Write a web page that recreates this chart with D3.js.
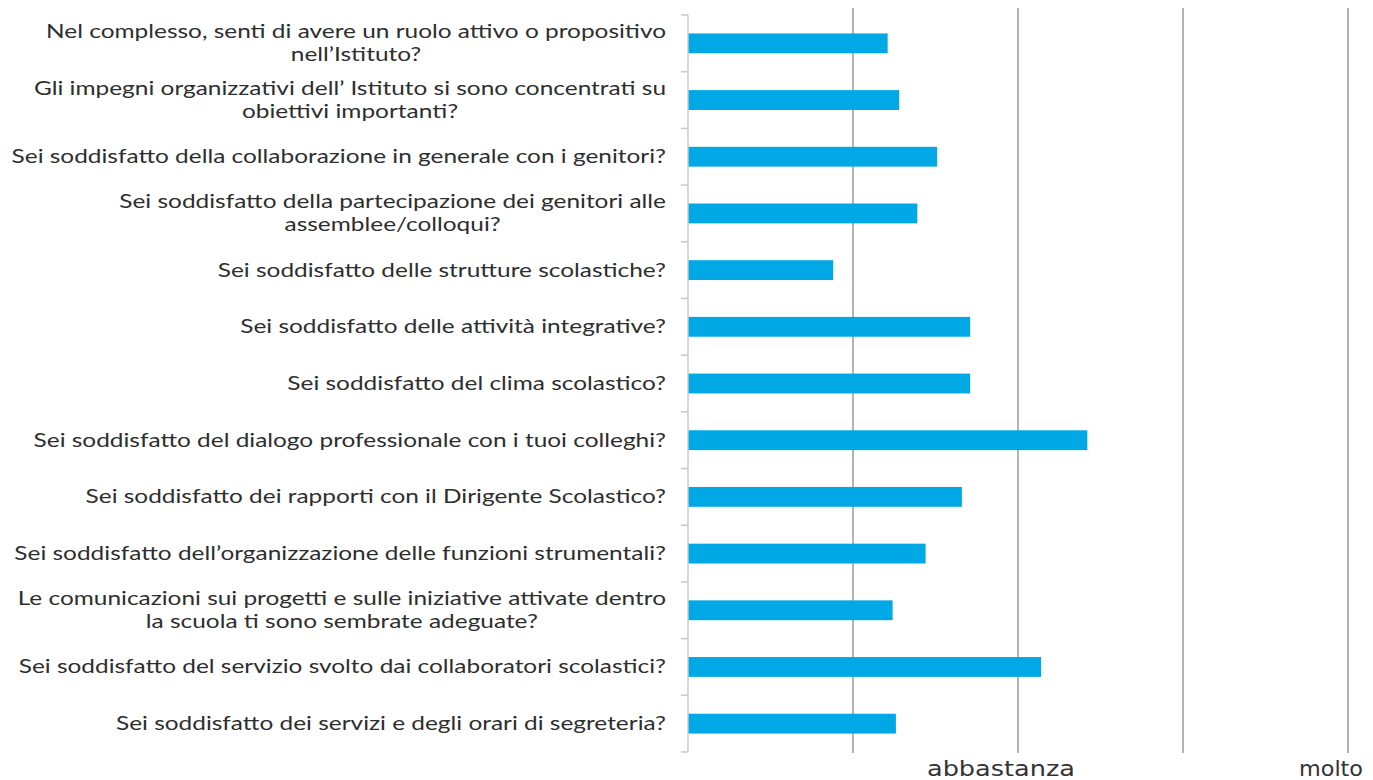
<!DOCTYPE html>
<html>
<head>
<meta charset="utf-8">
<script src="https://cdn.jsdelivr.net/npm/d3@7"></script>
<style>
  html, body { margin: 0; padding: 0; background: #fff; }
  svg { display: block; }
</style>
</head>
<body>
<svg id="chart" width="1373" height="780"></svg>
<script>
const categories = [
  ["Nel complesso, senti di avere un ruolo attivo o propositivo", "nell\u2019Istituto?"],
  ["Gli impegni organizzativi dell\u2019 Istituto si sono concentrati su", "obiettivi importanti?"],
  ["Sei soddisfatto della collaborazione in generale con i genitori?"],
  ["Sei soddisfatto della partecipazione dei genitori alle", "assemblee/colloqui?"],
  ["Sei soddisfatto delle strutture scolastiche?"],
  ["Sei soddisfatto delle attivit\u00e0 integrative?"],
  ["Sei soddisfatto del clima scolastico?"],
  ["Sei soddisfatto del dialogo professionale con i tuoi colleghi?"],
  ["Sei soddisfatto dei rapporti con il Dirigente Scolastico?"],
  ["Sei soddisfatto dell\u2019organizzazione delle funzioni strumentali?"],
  ["Le comunicazioni sui progetti e sulle iniziative attivate dentro", "la scuola ti sono sembrate adeguate?"],
  ["Sei soddisfatto del servizio svolto dai collaboratori scolastici?"],
  ["Sei soddisfatto dei servizi e degli orari di segreteria?"]
];
const values = [1.21, 1.28, 1.51, 1.39, 0.88, 1.71, 1.71, 2.42, 1.66, 1.44, 1.24, 2.14, 1.26];
const tickValues = [0, 1, 2, 3, 4];
const tickLabels = ["", "", "abbastanza", "", "molto"];

const svg = d3.select("#chart");
const margin = { left: 688, right: 25, top: 15, bottom: 28 };
const W = 1373, H = 780;

const x = d3.scaleLinear().domain([0, 4]).range([margin.left, W - margin.right]);
const y = d3.scaleBand().domain(d3.range(categories.length))
  .range([margin.top, H - margin.bottom]).paddingInner(0.65).paddingOuter(0.325);
const yEdges = d3.scaleLinear().domain([0, categories.length]).range([margin.top, H - margin.bottom]);

// gridlines
svg.append("g").selectAll("line").data(tickValues.slice(1)).join("line")
  .attr("x1", d => x(d)).attr("x2", d => x(d))
  .attr("y1", margin.top - 7).attr("y2", H - margin.bottom + 1)
  .attr("stroke", "#b4b4b4").attr("stroke-width", 2);

// bottom labels
const labelWidths = { "abbastanza": 148, "molto": 64 };
svg.append("g").selectAll("text").data(tickValues.filter((d, i) => tickLabels[i])).join("text")
  .attr("x", d => x(d) - 17).attr("y", 776)
  .attr("text-anchor", "middle")
  .attr("font-family", "'DejaVu Sans', sans-serif")
  .attr("font-size", 21)
  .attr("fill", "#333")
  .attr("lengthAdjust", "spacingAndGlyphs")
  .attr("textLength", d => labelWidths[tickLabels[d]])
  .text(d => tickLabels[d]);

// bars
svg.append("g").selectAll("rect").data(values).join("rect")
  .attr("x", x(0)).attr("y", (d, i) => y(i))
  .attr("width", d => x(d) - x(0)).attr("height", y.bandwidth())
  .attr("fill", "#00a9e6");

// axis line + ticks
const ax = svg.append("g");
ax.append("line").attr("x1", x(0)).attr("x2", x(0))
  .attr("y1", yEdges(0)).attr("y2", yEdges(categories.length))
  .attr("stroke", "#c8c8c8").attr("stroke-width", 1.5);
ax.selectAll("line.tk").data(d3.range(categories.length + 1)).join("line")
  .attr("class", "tk")
  .attr("x1", x(0) - 7).attr("x2", x(0))
  .attr("y1", d => yEdges(d)).attr("y2", d => yEdges(d))
  .attr("stroke", "#c8c8c8").attr("stroke-width", 1.5);

// category labels (horizontally stretched to match reference)
const labelRight = 666;
const stretch = 1.32;
const lineH = 23;
const lg = svg.append("g")
  .attr("transform", `translate(${labelRight},0) scale(${stretch},1)`)
  .attr("font-family", "Lato, 'Open Sans', sans-serif")
  .attr("font-size", 18.5)
  .attr("fill", "#2e2e2e");
categories.forEach((lines, i) => {
  const cy = y(i) + y.bandwidth() / 2;
  if (lines.length === 1) {
    lg.append("text").attr("x", 0).attr("y", cy).attr("dy", "0.35em")
      .attr("text-anchor", "end").text(lines[0]);
  } else {
    const t = lg.append("text").attr("text-anchor", "middle");
    const spans = lines.map((s, k) => t.append("tspan").attr("y", cy + (k - (lines.length - 1) / 2) * lineH).attr("dy", "0.35em").text(s));
    const maxW = d3.max(spans, s => s.node().getComputedTextLength());
    spans.forEach(s => s.attr("x", -maxW / 2));
  }
});
</script>
</body>
</html>
